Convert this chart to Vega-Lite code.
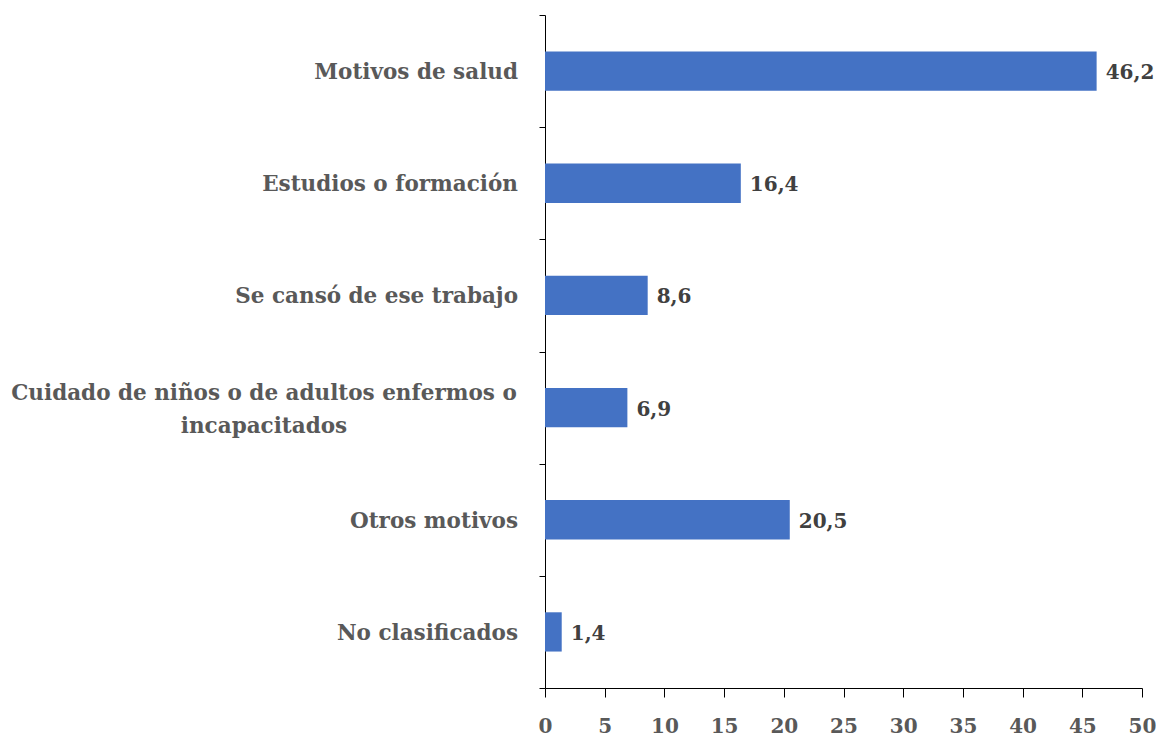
{
  "$schema": "https://vega.github.io/schema/vega-lite/v6.json",
  "width": 597,
  "height": 673,
  "autosize": {"type": "none"},
  "padding": {"left": 545, "top": 15, "right": 14, "bottom": 48},
  "background": "white",
  "config": {
    "view": {"stroke": null},
    "locale": {"number": {"decimal": ",", "thousands": ".", "grouping": [3], "currency": ["", " €"]}},
    "font": "DejaVu Serif"
  },
  "data": {
    "values": [
      {"motivo": "Motivos de salud", "lines": ["Motivos de salud"], "valor": 46.2, "wrap": false},
      {"motivo": "Estudios o formación", "lines": ["Estudios o formación"], "valor": 16.4, "wrap": false},
      {"motivo": "Se cansó de ese trabajo", "lines": ["Se cansó de ese trabajo"], "valor": 8.6, "wrap": false},
      {"motivo": "Cuidado de niños o de adultos enfermos o incapacitados", "lines": ["Cuidado de niños o de adultos enfermos o", "incapacitados"], "valor": 6.9, "wrap": true},
      {"motivo": "Otros motivos", "lines": ["Otros motivos"], "valor": 20.5, "wrap": false},
      {"motivo": "No clasificados", "lines": ["No clasificados"], "valor": 1.4, "wrap": false}
    ]
  },
  "encoding": {
    "y": {
      "field": "motivo",
      "type": "nominal",
      "sort": null,
      "scale": {"paddingInner": 0, "paddingOuter": 0},
      "axis": {
        "title": null,
        "labels": false,
        "domain": true,
        "domainColor": "#000000",
        "domainWidth": 1,
        "ticks": true,
        "tickBand": "extent",
        "tickSize": 6,
        "tickColor": "#000000",
        "grid": false
      }
    }
  },
  "layer": [
    {
      "mark": {"type": "bar", "color": "#4472C4", "height": {"band": 0.35}},
      "encoding": {
        "x": {
          "field": "valor",
          "type": "quantitative",
          "scale": {"domain": [0, 50], "nice": false},
          "axis": {
            "title": null,
            "values": [0, 5, 10, 15, 20, 25, 30, 35, 40, 45, 50],
            "grid": false,
            "domainColor": "#000000",
            "tickColor": "#000000",
            "tickSize": 9,
            "labelFont": "DejaVu Serif",
            "labelFontWeight": "bold",
            "labelFontSize": 20,
            "labelColor": "#595959",
            "labelPadding": 19,
            "labelFlush": false,
            "labelOverlap": false
          }
        }
      }
    },
    {
      "mark": {"type": "text", "align": "left", "baseline": "middle", "dx": 9, "dy": 2, "font": "DejaVu Serif", "fontWeight": "bold", "fontSize": 20, "color": "#404040"},
      "encoding": {
        "x": {"field": "valor", "type": "quantitative"},
        "text": {"field": "valor", "type": "quantitative", "format": ".1f"}
      }
    },
    {
      "transform": [{"filter": "!datum.wrap"}],
      "mark": {"type": "text", "align": "right", "baseline": "middle", "dx": -27, "dy": 2, "font": "DejaVu Serif", "fontWeight": "bold", "fontSize": 21.5, "color": "#595959"},
      "encoding": {
        "x": {"datum": 0, "type": "quantitative"},
        "text": {"field": "lines"}
      }
    },
    {
      "transform": [{"filter": "datum.wrap"}],
      "mark": {"type": "text", "align": "center", "baseline": "middle", "dx": -281, "dy": -14, "lineHeight": 33, "font": "DejaVu Serif", "fontWeight": "bold", "fontSize": 21.5, "color": "#595959"},
      "encoding": {
        "x": {"datum": 0, "type": "quantitative"},
        "text": {"field": "lines"}
      }
    }
  ]
}
